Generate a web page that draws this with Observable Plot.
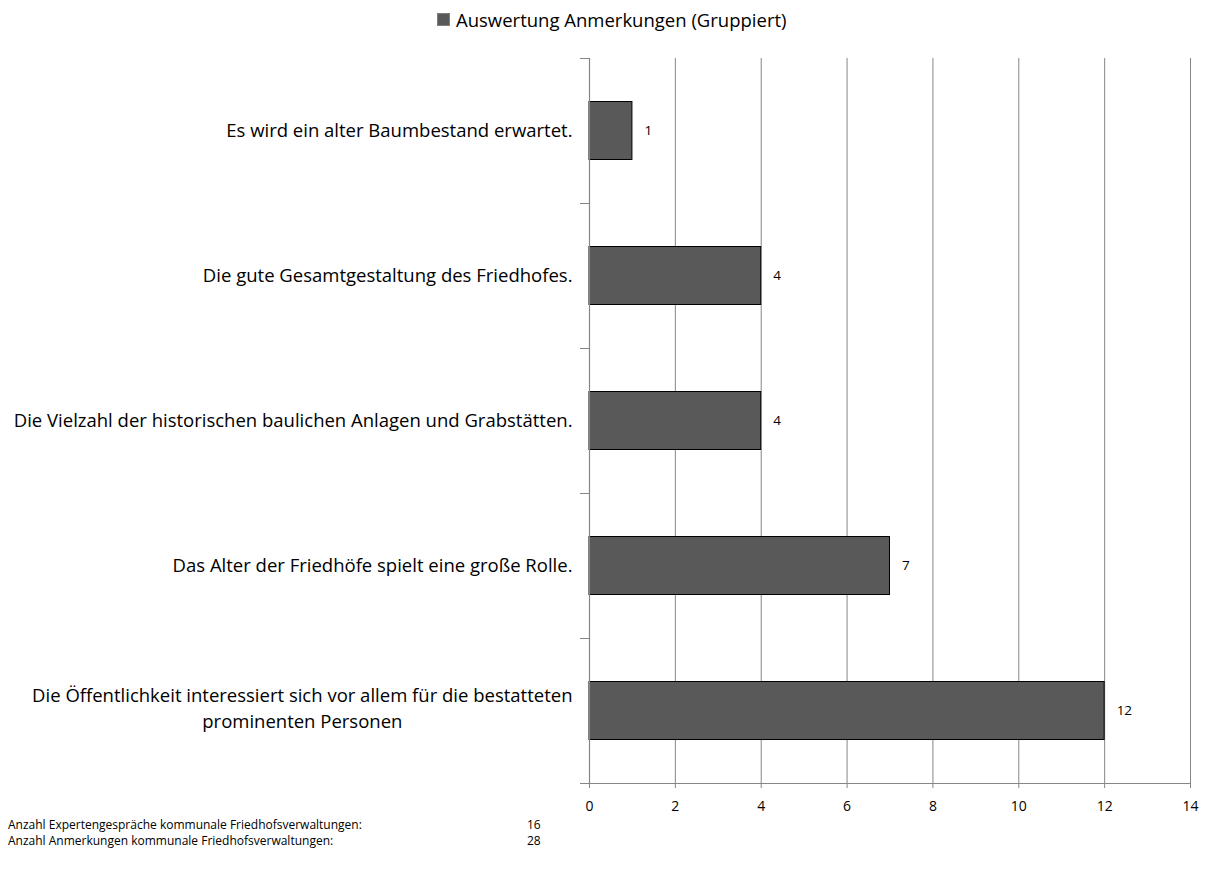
<!DOCTYPE html>
<html>
<head>
<meta charset="utf-8">
<script src="https://cdn.jsdelivr.net/npm/d3@7"></script>
<script src="https://cdn.jsdelivr.net/npm/@observablehq/plot@0.6"></script>
<style>
  body { margin: 0; background: #fff; font-family: "Open Sans", sans-serif; color: #000; }
  #wrap { position: relative; width: 1209px; height: 887px; }
  #legend { height: 40px; position: relative; font-size: 18.5px; }
  #legend .row { position: absolute; left: 437px; top: 6px; display: flex; align-items: center; height: 26px; }
  #legend .sw { display: inline-block; width: 11px; height: 11px; background: #595959; border: 1px solid #7f7f7f; margin-right: 6px; }
  #footer { position: absolute; left: 8px; top: 817px; font-size: 12px; line-height: 16px; }
  #footer .l { display: flex; }
  #footer .k { width: 519px; }
</style>
</head>
<body>
<div id="wrap">
  <div id="legend"><div class="row"><span class="sw"></span><span id="legend-text"></span></div></div>
  <div id="chart"></div>
  <div id="footer"></div>
</div>
<script>
// Categories from top to bottom and their counts
const categories = [
  "Es wird ein alter Baumbestand erwartet.",
  "Die gute Gesamtgestaltung des Friedhofes.",
  "Die Vielzahl der historischen baulichen Anlagen und Grabstätten.",
  "Das Alter der Friedhöfe spielt eine große Rolle.",
  "Die Öffentlichkeit interessiert sich vor allem für die bestatteten\nprominenten Personen"
];
const counts = [1, 4, 4, 7, 12];
const xTicks = [0, 2, 4, 6, 8, 10, 12, 14];
const seriesName = "Auswertung Anmerkungen (Gruppiert)";
const footerLabels = [
  "Anzahl Expertengespräche kommunale Friedhofsverwaltungen:",
  "Anzahl Anmerkungen kommunale Friedhofsverwaltungen:"
];
const footerValues = [16, 28];

const data = categories.map((c, i) => ({i, label: c, value: counts[i]}));
const idx = categories.map((_, i) => i);
const bounds = d3.range(-0.5, categories.length, 1);
const halfBar = 0.2;
const grey = "#868686";

document.getElementById("legend-text").textContent = seriesName;

const chart = Plot.plot({
  width: 1209,
  height: 780,
  marginTop: 18,
  marginBottom: 37,
  marginLeft: 589,
  marginRight: 19,
  style: {fontFamily: "'Open Sans', sans-serif", color: "#000", background: "#fff"},
  x: {domain: [0, 14], label: null},
  y: {domain: [-0.5, categories.length - 0.5], reverse: true, label: null},
  marks: [
    Plot.ruleX(xTicks.filter(d => d > 0), {y1: -0.5, y2: categories.length - 0.5, stroke: grey, strokeWidth: 1}),
    Plot.rectX(data, {
      x1: 0, x2: "value",
      y1: d => d.i - halfBar, y2: d => d.i + halfBar,
      fill: "#595959", stroke: "#000", strokeWidth: 1
    }),
    Plot.text(data, {
      x: "value", y: "i", text: d => String(d.value),
      textAnchor: "start", dx: 12, fontSize: 13.5, fill: "#000"
    }),
    Plot.ruleX([0], {y1: -0.5, y2: categories.length - 0.5, stroke: grey, strokeWidth: 1.2}),
    Plot.ruleY([categories.length - 0.5], {x1: 0, x2: 14, stroke: grey, strokeWidth: 1.2}),
    Plot.axisY({ticks: bounds, tickSize: 9, tickFormat: () => "", stroke: grey, label: null}),
    Plot.axisY({ticks: idx, tickSize: 0, tickPadding: 17, tickFormat: i => categories[i], fontSize: 18.5, lineWidth: 100, label: null}),
    Plot.axisX({ticks: xTicks, tickSize: 5, tickPadding: 13, stroke: grey, fontSize: 14, tickFormat: d => String(d), label: null})
  ]
});
document.getElementById("chart").appendChild(chart);

// Wrapped category labels: centre the lines under each other, 25px apart
chart.querySelectorAll("text").forEach(t => {
  const spans = t.querySelectorAll("tspan");
  if (spans.length > 1) {
    const w = spans[0].getComputedTextLength();
    const x0 = +(t.getAttribute("x") || 0);
    t.setAttribute("text-anchor", "middle");
    t.removeAttribute("dy");
    spans.forEach((s, k) => {
      s.setAttribute("x", x0 - w / 2);
      s.setAttribute("dy", k === 0 ? "-5.5px" : "25.5px");
    });
  }
});

const footer = document.getElementById("footer");
footerLabels.forEach((l, i) => {
  const row = document.createElement("div");
  row.className = "l";
  row.innerHTML = `<span class="k"></span><span class="v"></span>`;
  row.querySelector(".k").textContent = l;
  row.querySelector(".v").textContent = footerValues[i];
  footer.appendChild(row);
});
</script>
</body>
</html>
